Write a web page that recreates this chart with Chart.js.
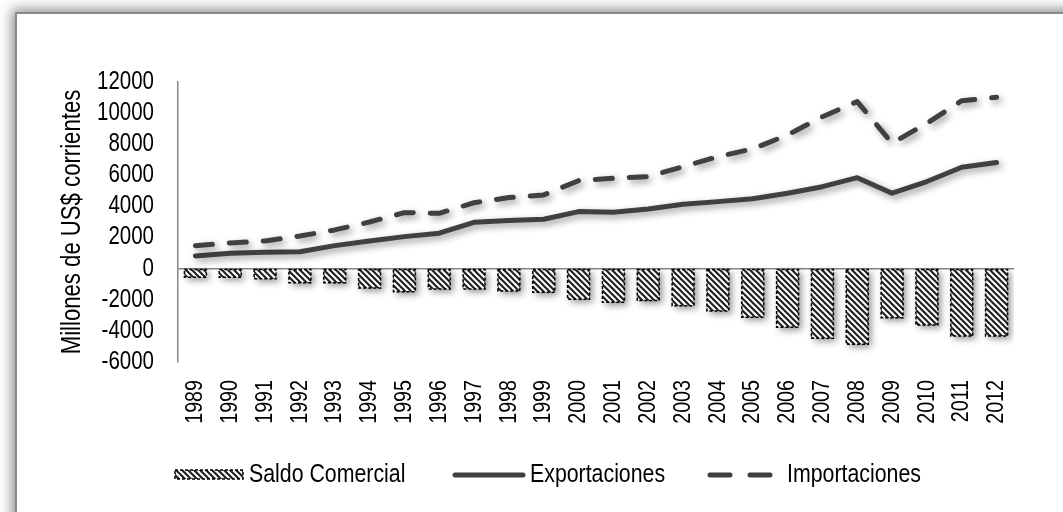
<!DOCTYPE html>
<html>
<head>
<meta charset="utf-8">
<script src="https://cdn.jsdelivr.net/npm/chart.js@4.4.1/dist/chart.umd.min.js"></script>
<style>
  html, body { margin: 0; padding: 0; background: #fff; overflow: hidden; }
  #wrap { position: relative; width: 1063px; height: 512px; overflow: hidden; }
  #frame {
    position: absolute; left: 15px; top: 12px; width: 1120px; height: 580px;
    border-left: 2px solid #8a8a8a; border-top: 2px solid #8a8a8a;
    box-shadow: 0 0 12px 3px rgba(0, 0, 0, 0.45); background: #fff;
  }
  canvas { position: absolute; left: 0; top: 0; }
</style>
</head>
<body>
<div id="wrap">
  <div id="frame"></div>
  <canvas id="chart" width="1063" height="512"></canvas>
</div>
<script>
// Balanza comercial, millones de US$ corrientes
const years = ['1989', '1990', '1991', '1992', '1993', '1994', '1995', '1996', '1997', '1998', '1999', '2000',
               '2001', '2002', '2003', '2004', '2005', '2006', '2007', '2008', '2009', '2010', '2011', '2012'];
const saldoComercial = [-550, -550, -650, -900, -900, -1250, -1480, -1300, -1300, -1430, -1520, -1970,
                        -2160, -2050, -2380, -2720, -3130, -3770, -4480, -4860, -3150, -3620, -4330, -4330];
const exportaciones = [820, 990, 1050, 1090, 1480, 1780, 2060, 2280, 2980, 3090, 3180, 3670,
                       3620, 3840, 4140, 4310, 4500, 4850, 5270, 5850, 4850, 5600, 6520, 6820];
const importaciones = [1480, 1650, 1780, 2100, 2490, 3000, 3600, 3560, 4240, 4570, 4740, 5660,
                       5810, 5920, 6560, 7200, 7700, 8600, 9770, 10740, 8060, 9350, 10800, 11020];
const yMin = -6000;
const yMax = 12000;
const yStep = 2000;
const yTitle = 'Millones de US$ corrientes';
const seriesNames = ['Saldo Comercial', 'Exportaciones', 'Importaciones'];

const FONT = "'Liberation Sans', Arial, sans-serif";
const NARROW = 0.82;          // condensed lettering, as in Arial Narrow
const LINE_COLOR = '#404040';
const AXIS_COLOR = '#868686';

const canvas = document.getElementById('chart');
const ctx2d = canvas.getContext('2d');

// Condense all text along its own baseline direction (works for rotated labels too)
const baseFillText = ctx2d.fillText.bind(ctx2d);
ctx2d.fillText = function (text, x, y, maxWidth) {
  this.save();
  this.translate(x, y);
  this.scale(NARROW, 1);
  if (maxWidth === undefined) baseFillText(text, 0, 0);
  else baseFillText(text, 0, 0, maxWidth / NARROW);
  this.restore();
};
const baseMeasure = ctx2d.measureText.bind(ctx2d);
ctx2d.measureText = function (text) {
  const m = baseMeasure(text);
  return {
    width: m.width * NARROW,
    actualBoundingBoxLeft: m.actualBoundingBoxLeft * NARROW,
    actualBoundingBoxRight: m.actualBoundingBoxRight * NARROW,
    actualBoundingBoxAscent: m.actualBoundingBoxAscent,
    actualBoundingBoxDescent: m.actualBoundingBoxDescent
  };
};

// diagonal hatch used to fill the balance bars
function makeHatch() {
  const s = 6;
  const c = document.createElement('canvas');
  c.width = s; c.height = s;
  const g = c.getContext('2d');
  g.fillStyle = '#fff';
  g.fillRect(0, 0, s, s);
  g.strokeStyle = '#222';
  g.lineWidth = 2.2;
  g.beginPath();
  g.moveTo(-1, -1); g.lineTo(s + 1, s + 1);
  g.moveTo(-1, s - 1); g.lineTo(1, s + 1);
  g.moveTo(s - 1, -1); g.lineTo(s + 1, 1);
  g.stroke();
  return g.createPattern(c, 'repeat');
}
const hatch = makeHatch();

// soft drop shadow under every series, dashed outline on the bars
const shadowPlugin = {
  id: 'shadowPlugin',
  beforeDatasetDraw(chart) {
    const ctx = chart.ctx;
    ctx.save();
    ctx.shadowColor = 'rgba(0,0,0,0.42)';
    ctx.shadowBlur = 7;
    ctx.shadowOffsetX = 3;
    ctx.shadowOffsetY = 3;
  },
  afterDatasetDraw(chart, args) {
    const ctx = chart.ctx;
    ctx.restore();
    if (args.meta.type === 'bar') {
      ctx.save();
      ctx.setLineDash([3, 2]);
      ctx.lineWidth = 1.5;
      ctx.strokeStyle = '#000';
      args.meta.data.forEach(bar => {
        const p = bar.getProps(['x', 'y', 'base', 'width'], true);
        ctx.strokeRect(p.x - p.width / 2, Math.min(p.y, p.base), p.width, Math.abs(p.base - p.y));
      });
      ctx.restore();
    }
  }
};

// legend row beneath the axis labels
const legendPlugin = {
  id: 'legendRow',
  afterDraw(chart) {
    const ctx = chart.ctx;
    const cy = 475;
    ctx.save();
    ctx.font = '26px ' + FONT;
    ctx.textBaseline = 'middle';
    ctx.textAlign = 'left';

    // Saldo Comercial: hatched swatch
    ctx.fillStyle = hatch;
    ctx.fillRect(175, cy - 5, 68, 9);
    ctx.setLineDash([3, 2]);
    ctx.lineWidth = 1.5;
    ctx.strokeStyle = '#000';
    ctx.strokeRect(175, cy - 5, 68, 9);
    ctx.setLineDash([]);
    ctx.fillStyle = '#000';
    ctx.fillText(seriesNames[0], 249, cy);

    // Exportaciones: solid line
    ctx.strokeStyle = LINE_COLOR;
    ctx.lineWidth = 5;
    ctx.lineCap = 'round';
    ctx.beginPath();
    ctx.moveTo(455, cy); ctx.lineTo(523, cy);
    ctx.stroke();
    ctx.fillText(seriesNames[1], 530, cy);

    // Importaciones: dashed line
    ctx.beginPath();
    ctx.moveTo(710, cy); ctx.lineTo(730, cy);
    ctx.moveTo(750, cy); ctx.lineTo(770, cy);
    ctx.stroke();
    ctx.fillText(seriesNames[2], 787, cy);
    ctx.restore();
  }
};

new Chart(canvas, {
  type: 'bar',
  data: {
    labels: years,
    datasets: [
      {
        type: 'bar',
        label: seriesNames[0],
        data: saldoComercial,
        backgroundColor: hatch,
        borderWidth: 0,
        categoryPercentage: 1,
        barPercentage: 0.63,
        order: 3
      },
      {
        type: 'line',
        label: seriesNames[1],
        data: exportaciones,
        borderColor: LINE_COLOR,
        borderWidth: 5,
        borderCapStyle: 'round',
        borderJoinStyle: 'round',
        pointRadius: 0,
        tension: 0,
        fill: false,
        order: 2
      },
      {
        type: 'line',
        label: seriesNames[2],
        data: importaciones,
        borderColor: LINE_COLOR,
        borderWidth: 5,
        borderDash: [17, 17],
        borderCapStyle: 'round',
        borderJoinStyle: 'round',
        pointRadius: 0,
        tension: 0,
        fill: false,
        order: 1
      }
    ]
  },
  options: {
    responsive: false,
    animation: false,
    layout: { padding: { left: 0, right: 49, top: 82, bottom: 0 } },
    plugins: {
      legend: { display: false },
      tooltip: { enabled: false }
    },
    scales: {
      x: {
        grid: { display: false, drawTicks: false },
        border: { display: false },
        ticks: {
          autoSkip: false,
          maxRotation: 90,
          minRotation: 90,
          padding: 18,
          color: '#000',
          font: { family: FONT, size: 24 }
        },
        afterFit(scale) { scale.height = 150; }
      },
      y: {
        min: yMin,
        max: yMax,
        grid: {
          drawTicks: false,
          color: ctx => (ctx.tick && ctx.tick.value === 0 ? AXIS_COLOR : 'rgba(0,0,0,0)'),
          lineWidth: 1.5
        },
        border: { display: true, color: AXIS_COLOR, width: 1.5 },
        ticks: {
          stepSize: yStep,
          autoSkip: false,
          padding: 24,
          color: '#000',
          font: { family: FONT, size: 25 },
          callback: v => String(v)
        },
        title: {
          display: true,
          text: yTitle,
          color: '#000',
          font: { family: FONT, size: 27 },
          padding: { top: 56, bottom: 0 }
        },
        afterFit(scale) { scale.width = 178; }
      }
    }
  },
  plugins: [shadowPlugin, legendPlugin]
});
</script>
</body>
</html>
